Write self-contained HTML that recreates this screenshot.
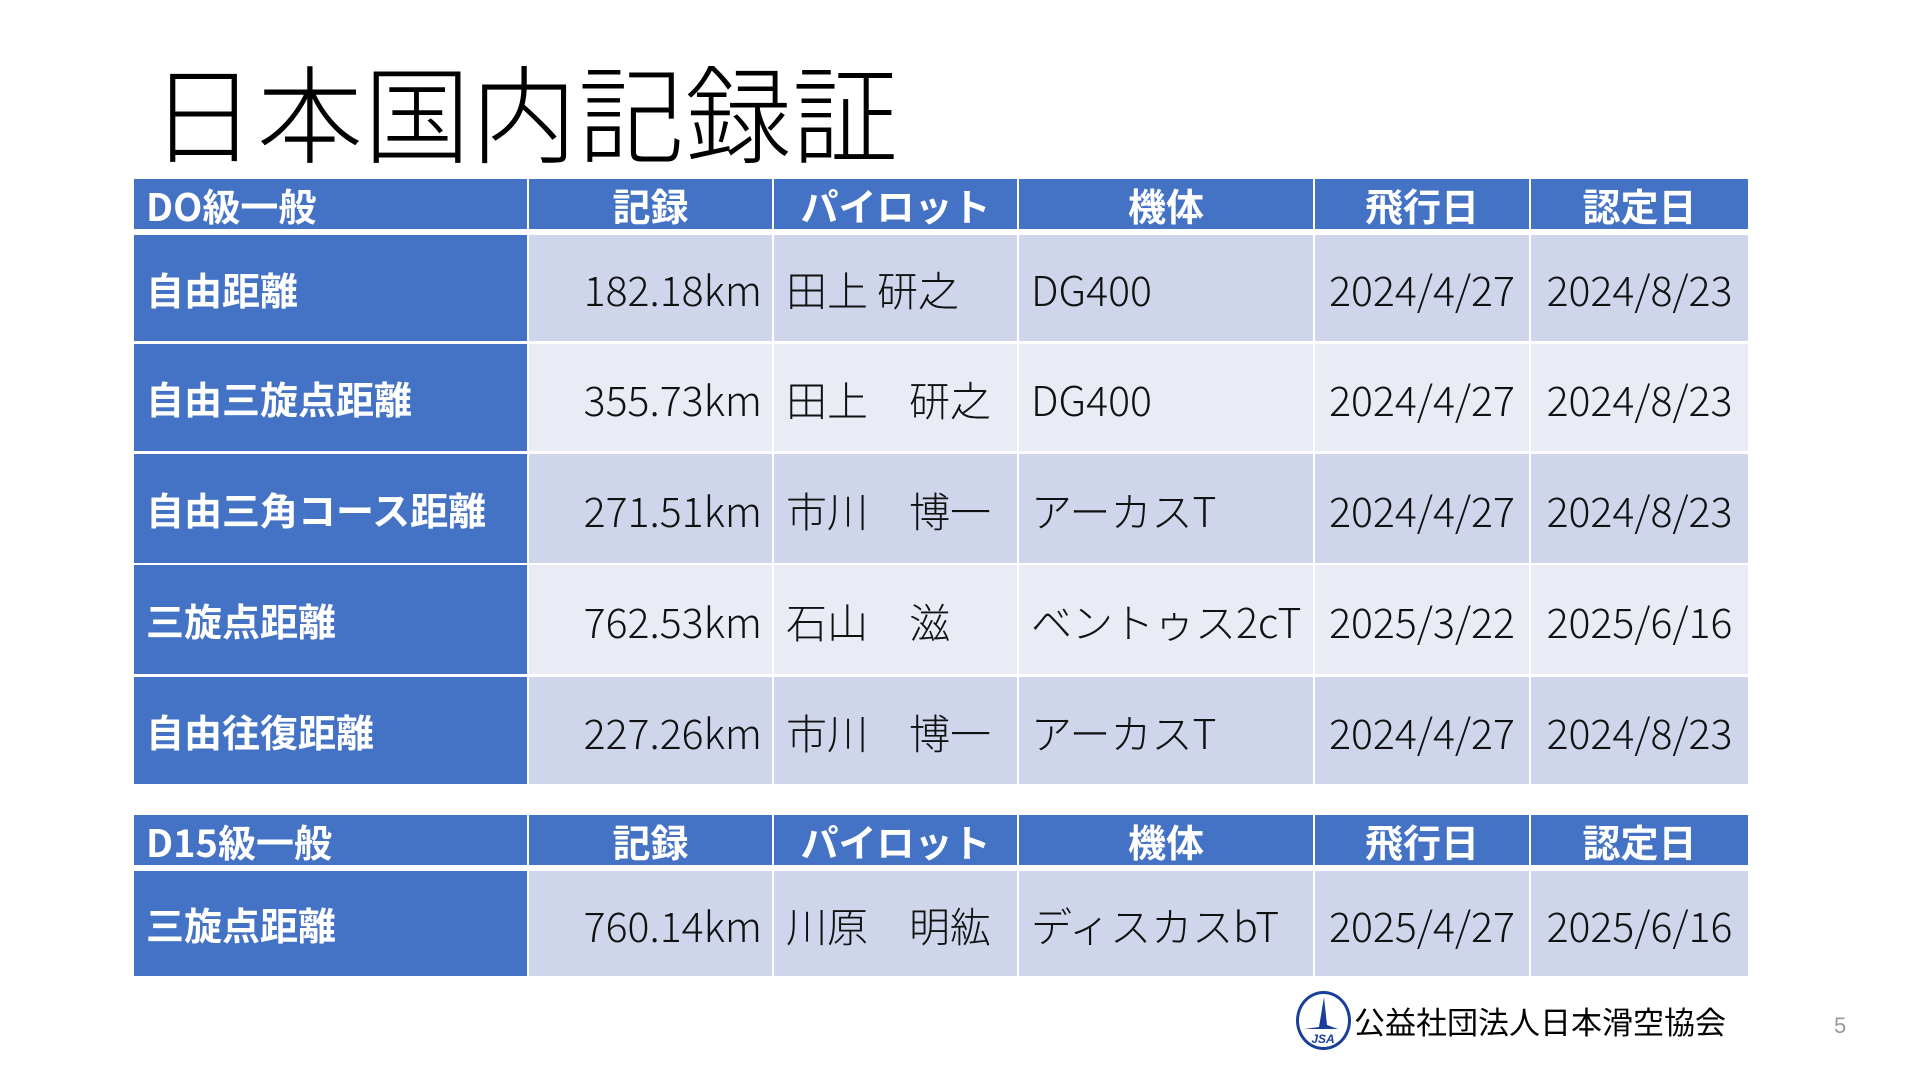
<!DOCTYPE html>
<html><head><meta charset="utf-8">
<style>
body{margin:0;width:1920px;height:1080px;background:#fff;position:relative;overflow:hidden;font-family:"Liberation Sans","Noto Sans CJK JP",sans-serif;}
.t{position:absolute;left:150px;top:46px;font-size:106px;font-weight:300;font-family:"Noto Sans CJK JP",sans-serif;color:#000;letter-spacing:1px;line-height:1.2}
.c{position:absolute;box-sizing:border-box;display:flex;align-items:center;white-space:nowrap;overflow:hidden;font-family:"Noto Sans CJK JP",sans-serif}
.h{background:#4472c4;color:#fff;font-weight:bold;font-size:38px;justify-content:center}
.f{background:#4472c4;color:#fff;font-weight:bold;font-size:38px;padding-left:12px}
.a{background:#cfd5ea;color:#111;font-size:41px;font-weight:300}
.b{background:#e9ebf5;color:#111;font-size:41px;font-weight:300}
.r{justify-content:flex-end;padding-right:10px}
.l{padding-left:12px}
.m{justify-content:center}
</style></head><body>
<div class="t">日本国内記録証</div>
<div style="position:absolute;left:1296px;top:991px;width:55px;height:59px;border-radius:50%;border:3px solid #1a3f9a;box-sizing:border-box;background:#fff;overflow:hidden">
<svg width="55" height="59" viewBox="0 0 55 59" style="position:absolute;left:-3px;top:-3px"><path d="M28 6 L23 36 L8 38 L42 38 L31 34 Z" fill="#1a3f9a"/><text x="27" y="52" font-size="12" font-weight="bold" font-style="italic" fill="#1a3f9a" text-anchor="middle" font-family="Liberation Sans">JSA</text></svg></div>
<div style="position:absolute;left:1354px;top:998px;font-size:31px;color:#000;font-family:'Noto Sans CJK JP',sans-serif;">公益社団法人日本滑空協会</div>
<div style="position:absolute;left:1834px;top:1013px;font-size:22px;color:#999">5</div>
<script>
const cols=[134,529,774,1019,1315,1531,1748];
const hdr=["記録","パイロット","機体","飛行日","認定日"];
function cell(x1,x2,y1,y2,cls,txt){const d=document.createElement('div');d.className='c '+cls;d.style.left=x1+'px';d.style.width=(x2-x1-2)+'px';d.style.top=y1+'px';d.style.height=(y2-y1)+'px';d.textContent=txt;document.body.appendChild(d);}
function header(y1,y2,name){cell(cols[0],cols[1],y1,y2,'f',name);for(let i=0;i<5;i++)cell(cols[i+1],cols[i+2]+(i==4?2:0),y1,y2,'h',hdr[i]);}
function row(y1,y2,cls,d){cell(cols[0],cols[1],y1,y2,'f',d[0]);const al=['r','l','l','m','m'];for(let i=0;i<5;i++)cell(cols[i+1],cols[i+2]+(i==4?2:0),y1,y2,cls+' '+al[i],d[i+1]);}
header(179,229,"DO級一般");
const rows=[["自由距離","182.18km","田上 研之","DG400","2024/4/27","2024/8/23"],
["自由三旋点距離","355.73km","田上　研之","DG400","2024/4/27","2024/8/23"],
["自由三角コース距離","271.51km","市川　博一","アーカスT","2024/4/27","2024/8/23"],
["三旋点距離","762.53km","石山　滋","ベントゥス2cT","2025/3/22","2025/6/16"],
["自由往復距離","227.26km","市川　博一","アーカスT","2024/4/27","2024/8/23"]];
const ys=[[235,341],[344,451],[454,563],[565,674],[677,784]];
rows.forEach((r,i)=>row(ys[i][0],ys[i][1],i%2?'b':'a',r));
header(815,865,"D15級一般");
row(871,976,'a',["三旋点距離","760.14km","川原　明紘","ディスカスbT","2025/4/27","2025/6/16"]);
</script>
</body></html>
